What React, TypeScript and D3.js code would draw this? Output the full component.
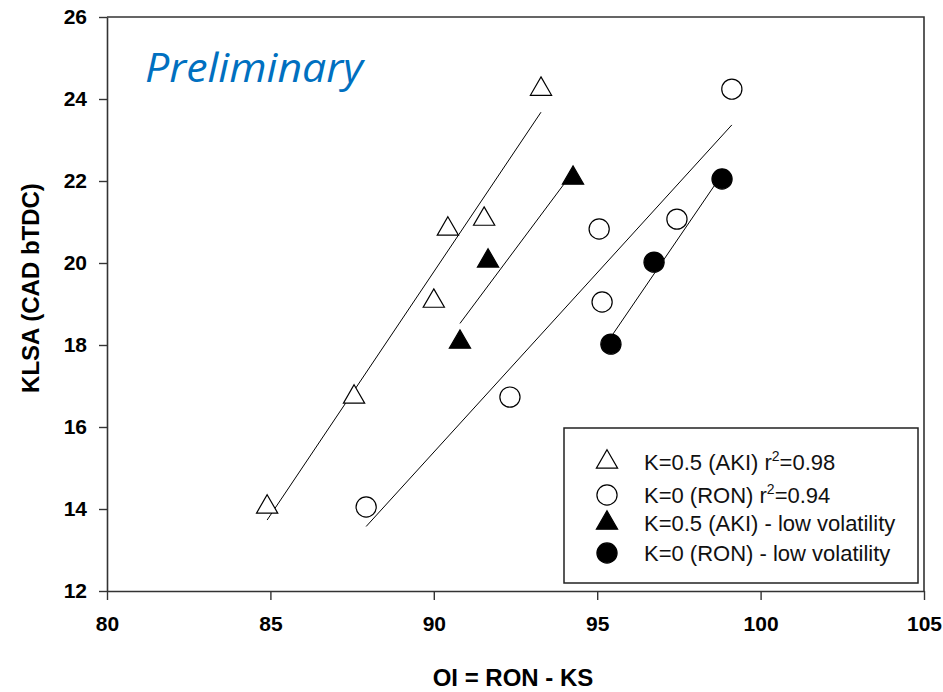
import React, { useEffect, useRef } from 'react';
import * as d3 from 'd3';

// OI values (x) and KLSA values (y)
const akiX = [84.9, 87.56, 90.0, 90.43, 91.54, 93.28];
const akiY = [14.05, 16.73, 19.07, 20.83, 21.07, 24.24];
const ronX = [87.93, 92.33, 95.06, 95.15, 97.44, 99.12];
const ronY = [14.05, 16.73, 20.83, 19.05, 21.07, 24.24];
const akiLowX = [90.8, 91.66, 94.26];
const akiLowY = [18.07, 20.05, 22.07];
const ronLowX = [95.42, 96.74, 98.82];
const ronLowY = [18.02, 20.02, 22.05];

const xTicks = [80, 85, 90, 95, 100, 105];
const yTicks = [12, 14, 16, 18, 20, 22, 24, 26];

const legendLabels = [
    'K=0.5 (AKI) r',
    'K=0 (RON) r',
    'K=0.5 (AKI) - low volatility',
    'K=0 (RON) - low volatility',
];
const legendR2 = ['=0.98', '=0.94', null, null];

// least squares fit, drawn over the series' own x range
const fitLine = (xs: number[], ys: number[]) => {
    const mx = d3.mean(xs) as number;
    const my = d3.mean(ys) as number;
    const sxy = d3.sum(xs, (x, i) => (x - mx) * (ys[i] - my));
    const sxx = d3.sum(xs, x => (x - mx) * (x - mx));
    const slope = sxy / sxx;
    const x0 = d3.min(xs) as number;
    const x1 = d3.max(xs) as number;
    return [[x0, my + slope * (x0 - mx)], [x1, my + slope * (x1 - mx)]];
};

const App = () => {
    const svgRef = useRef<SVGSVGElement>(null);

    useEffect(() => {
        const svg = d3.select(svgRef.current);
        svg.selectAll('*').remove();

        const left = 107, right = 924, top = 17, bottom = 591;
        const x = d3.scaleLinear().domain([80, 105]).range([left, right]);
        const y = d3.scaleLinear().domain([12, 26]).range([bottom, top]);

        const series = [
            { xs: akiX, ys: akiY, shape: d3.symbolTriangle, filled: false },
            { xs: ronX, ys: ronY, shape: d3.symbolCircle, filled: false },
            { xs: akiLowX, ys: akiLowY, shape: d3.symbolTriangle, filled: true },
            { xs: ronLowX, ys: ronLowY, shape: d3.symbolCircle, filled: true },
        ];
        const symSize = (shape: any) => (shape === d3.symbolTriangle ? 195 : 320);

        // frame (top and right)
        svg.append('path')
            .attr('d', `M${left},${top}H${right}V${bottom}`)
            .attr('fill', 'none')
            .attr('stroke', '#333')
            .attr('stroke-width', 1.6);

        // axes
        const xAxis = svg.append('g')
            .attr('transform', `translate(0,${bottom})`)
            .call(d3.axisBottom(x).tickValues(xTicks).tickSize(9).tickSizeOuter(0).tickPadding(16));
        const yAxis = svg.append('g')
            .attr('transform', `translate(${left},0)`)
            .call(d3.axisLeft(y).tickValues(yTicks).tickSize(8).tickSizeOuter(0).tickPadding(12));

        [xAxis, yAxis].forEach(ax => {
            ax.select('.domain').attr('stroke', '#333').attr('stroke-width', 1.6);
            ax.selectAll('.tick line').attr('stroke', '#333').attr('stroke-width', 1.4);
            ax.selectAll('.tick text')
                .attr('fill', '#000')
                .style('font-family', '"Liberation Sans", Arial, sans-serif')
                .style('font-weight', 'bold')
                .style('font-size', '21px');
        });

        // fit lines
        series.forEach(s => {
            const pts = fitLine(s.xs, s.ys);
            svg.append('line')
                .attr('x1', x(pts[0][0]))
                .attr('y1', y(pts[0][1]))
                .attr('x2', x(pts[1][0]))
                .attr('y2', y(pts[1][1]))
                .attr('stroke', '#000')
                .attr('stroke-width', 1);
        });

        // markers
        series.forEach(s => {
            svg.append('g').selectAll('path')
                .data(s.xs)
                .join('path')
                .attr('transform', (d, i) => `translate(${x(d)},${y(s.ys[i])})`)
                .attr('d', d3.symbol().type(s.shape).size(symSize(s.shape))())
                .attr('fill', s.filled ? '#000' : '#fff')
                .attr('stroke', '#000')
                .attr('stroke-width', 1.2);
        });

        // legend
        const legend = svg.append('g');
        legend.append('rect')
            .attr('x', 564)
            .attr('y', 428)
            .attr('width', 354)
            .attr('height', 155)
            .attr('fill', '#fff')
            .attr('stroke', '#222')
            .attr('stroke-width', 1.5);

        const rowY = [462, 495, 523, 553];
        series.forEach((s, i) => {
            legend.append('path')
                .attr('transform', `translate(607,${rowY[i]})`)
                .attr('d', d3.symbol().type(s.shape).size(symSize(s.shape))())
                .attr('fill', s.filled ? '#000' : '#fff')
                .attr('stroke', '#000')
                .attr('stroke-width', 1.2);

            const t = legend.append('text')
                .attr('x', 644)
                .attr('y', rowY[i] + 8)
                .style('font-family', '"Liberation Sans", Arial, sans-serif')
                .style('font-size', '22px')
                .attr('fill', '#111')
                .text(legendLabels[i]);
            if (legendR2[i]) {
                t.append('tspan').attr('dy', -9).style('font-size', '14px').text('2');
                t.append('tspan').attr('dy', 9).text(legendR2[i] as string);
            }
        });

        // axis titles
        svg.append('text')
            .attr('x', 513)
            .attr('y', 686)
            .attr('text-anchor', 'middle')
            .style('font-family', '"Liberation Sans", Arial, sans-serif')
            .style('font-weight', 'bold')
            .style('font-size', '24px')
            .text('OI = RON - KS');

        svg.append('text')
            .attr('transform', 'rotate(-90)')
            .attr('x', -288)
            .attr('y', 39)
            .attr('text-anchor', 'middle')
            .style('font-family', '"Liberation Sans", Arial, sans-serif')
            .style('font-weight', 'bold')
            .style('font-size', '24px')
            .text('KLSA (CAD bTDC)');

        svg.append('text')
            .attr('x', 145)
            .attr('y', 82)
            .attr('fill', '#0070C0')
            .style('font-family', '"Open Sans", sans-serif')
            .style('font-style', 'italic')
            .style('font-size', '40px')
            .attr('textLength', 218)
            .attr('lengthAdjust', 'spacingAndGlyphs')
            .text('Preliminary');
    }, []);

    return (
        <svg
            ref={svgRef}
            width={943}
            height={692}
            style={{ position: 'absolute', left: 0, top: 0, background: '#fff' }}
        />
    );
};

export default App;
